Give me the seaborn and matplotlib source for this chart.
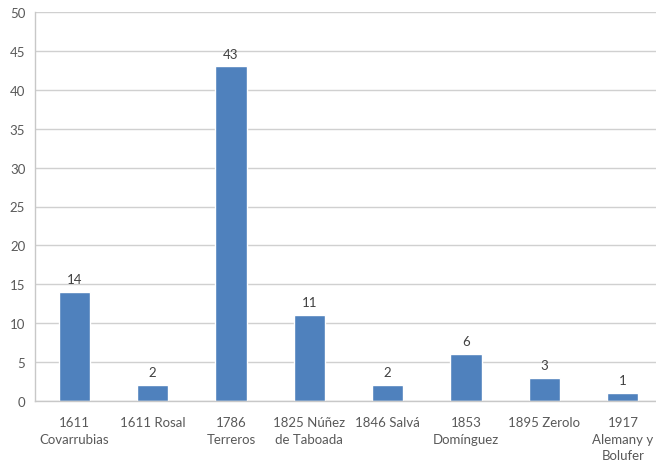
import matplotlib
matplotlib.use("Agg")
import matplotlib.pyplot as plt
import seaborn as sns
import pandas as pd
import numpy as np

categories = ["1611\nCovarrubias", "1611 Rosal", "1786\nTerreros", "1825 Núñez\nde Taboada",
              "1846 Salvá", "1853\nDomínguez", "1895 Zerolo", "1917\nAlemany y\nBolufer"]
values = [14, 2, 43, 11, 2, 6, 3, 1]
y_ticks = [0, 5, 10, 15, 20, 25, 30, 35, 40, 45, 50]

sns.set_theme(style="white")
plt.rcParams["font.family"] = ["Lato", "DejaVu Sans"]

df = pd.DataFrame({"obra": categories, "n": values})

fig = plt.figure(figsize=(6.56, 4.64), dpi=100)
ax = fig.add_axes([35 / 656, 1 - 402 / 464, 627 / 656, 389 / 464])

sns.barplot(data=df, x="obra", y="n", color="#4F81BD", saturation=1, width=0.4, ax=ax)

ax.set_ylim(0, 50)
ax.set_xlim(-0.5, len(categories) - 0.5)
ax.set_yticks(y_ticks)
ax.yaxis.grid(True, color="#D0D0D0", linewidth=1)
ax.set_axisbelow(True)
ax.set_xlabel("")
ax.set_ylabel("")

for s in ["top", "right"]:
    ax.spines[s].set_visible(False)
for s in ["left", "bottom"]:
    ax.spines[s].set_color("#C8C8C8")
    ax.spines[s].set_linewidth(1)

text_color = "#595959"
ax.tick_params(axis="y", length=4, color="#C8C8C8", labelsize=9.5, labelcolor=text_color, pad=3)
ax.tick_params(axis="x", which="major", length=0, labelsize=9.5, labelcolor=text_color, pad=11)
for lbl in ax.get_xticklabels():
    lbl.set_linespacing(1.45)
ax.set_xticks(np.arange(-0.5, len(categories), 1), minor=True)
ax.tick_params(axis="x", which="minor", length=4, color="#C8C8C8", direction="out")

for c in ax.containers:
    ax.bar_label(c, labels=[str(v) for v in values], padding=5, fontsize=9.5, color="#404040")

fig.savefig("out.png", dpi=100)
